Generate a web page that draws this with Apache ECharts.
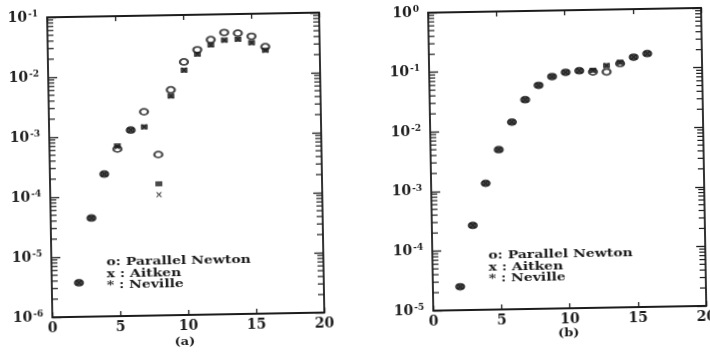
<!DOCTYPE html>
<html>
<head>
<meta charset="utf-8">
<script src="https://cdn.jsdelivr.net/npm/echarts@6/dist/echarts.min.js"></script>
<style>
  html, body { margin: 0; padding: 0; background: #fff; }
  #chart { width: 710px; height: 358px; transform: rotate(-1deg); transform-origin: 355px 179px; }
</style>
</head>
<body>
<div id="chart"></div>
<script>
// ---- data ----
const xValues = [2, 3, 4, 5, 6, 7, 8, 9, 10, 11, 12, 13, 14, 15, 16];

// panel (a)
const newtonA  = [3.7e-6, 4.4e-5, 2.35e-4, 6.1e-4, 1.25e-3, 2.5e-3, 4.8e-4, 5.7e-3, 1.65e-2, 2.6e-2, 3.8e-2, 4.95e-2, 4.8e-2, 4.2e-2, 2.8e-2];
const aitkenA  = [3.7e-6, 4.4e-5, 2.35e-4, 6.6e-4, 1.25e-3, 1.4e-3, 1.03e-4, 4.5e-3, 1.2e-2, 2.2e-2, 3.1e-2, 3.7e-2, 3.8e-2, 3.3e-2, 2.45e-2];
const nevilleA = [3.7e-6, 4.4e-5, 2.35e-4, 6.9e-4, 1.25e-3, 1.4e-3, 1.56e-4, 4.5e-3, 1.2e-2, 2.2e-2, 3.1e-2, 3.7e-2, 3.8e-2, 3.3e-2, 2.45e-2];

// panel (b)
const newtonB  = [2.47e-5, 2.62e-4, 1.32e-3, 4.8e-3, 1.38e-2, 3.25e-2, 5.6e-2, 7.8e-2, 9.1e-2, 9.6e-2, 9.1e-2, 9.0e-2, 0.123, 0.156, 0.178];
const aitkenB  = [2.47e-5, 2.62e-4, 1.32e-3, 4.8e-3, 1.38e-2, 3.25e-2, 5.6e-2, 7.8e-2, 9.1e-2, 9.6e-2, 9.7e-2, 0.115, 0.129, 0.156, 0.178];
const nevilleB = [2.47e-5, 2.62e-4, 1.32e-3, 4.8e-3, 1.38e-2, 3.25e-2, 5.6e-2, 7.8e-2, 9.1e-2, 9.6e-2, 9.7e-2, 0.115, 0.129, 0.156, 0.178];

// axes
const xTicks = [0, 5, 10, 15, 20];
const yExpA = [-6, -5, -4, -3, -2, -1];
const yExpB = [-5, -4, -3, -2, -1, 0];
const legendLines = ['o: Parallel Newton', 'x : Aitken', '* : Neville'];
const captions = ['(a)', '(b)'];
const seriesNames = ['Parallel Newton', 'Aitken', 'Neville'];

// ---- build ----
const INK = '#1c1c1c';
const FONT = 'DejaVu Serif';

function pairs(ys) { return xValues.map((x, i) => [x, ys[i]]); }

function minorTicks(exps) {
  const out = [];
  for (let e = exps[0]; e < exps[exps.length - 1]; e++) {
    for (let m = 2; m <= 9; m++) out.push([0, m * Math.pow(10, e)]);
  }
  return out;
}

function yLabelFmt(v) {
  const e = Math.round(Math.log10(v));
  return '{b|10}{s|' + (e < 0 ? '-' + (-e) : e) + '}';
}

const grids = [
  { left: 50, top: 12, width: 272, height: 300, outerBoundsMode: 'none' },
  { left: 431, top: 14, width: 273, height: 298, outerBoundsMode: 'none' }
];

const xAxis = [], yAxis = [], series = [];
const ranges = [yExpA, yExpB];
const data = [[newtonA, aitkenA, nevilleA], [newtonB, aitkenB, nevilleB]];

const xPath = 'path://M0,0 L2.5,0 L5,3 L7.5,0 L10,0 L6.5,4 L10,8 L7.5,8 L5,5 L2.5,8 L0,8 L3.5,4 Z';
const lineStyle = { color: INK, width: 1.8 };
const tickStyle = { color: INK, width: 1.3 };

for (let g = 0; g < 2; g++) {
  const exps = ranges[g];
  const ymin = Math.pow(10, exps[0]), ymax = Math.pow(10, exps[exps.length - 1]);
  const xmin = xTicks[0], xmax = xTicks[xTicks.length - 1];
  xAxis.push({
    type: 'value', gridIndex: g, min: xmin, max: xmax, interval: 5, position: 'bottom',
    axisLine: { onZero: false, lineStyle },
    axisTick: { inside: true, length: 5, lineStyle: tickStyle },
    axisLabel: { color: INK, fontFamily: FONT, fontWeight: 'bold', fontSize: 14, margin: 4 },
    splitLine: { show: false }
  });
  xAxis.push({
    type: 'value', gridIndex: g, min: xmin, max: xmax, interval: 5, position: 'top',
    axisLine: { onZero: false, lineStyle },
    axisTick: { inside: true, length: 5, lineStyle: tickStyle },
    axisLabel: { show: false },
    splitLine: { show: false }
  });
  yAxis.push({
    type: 'log', logBase: 10, gridIndex: g, min: ymin, max: ymax, splitNumber: 5, position: 'left',
    axisLine: { onZero: false, lineStyle },
    axisTick: { inside: true, length: 9, lineStyle: tickStyle },
    axisLabel: {
      color: INK, margin: 9, formatter: yLabelFmt,
      rich: {
        b: { fontFamily: FONT, fontWeight: 'bold', fontSize: 14, color: INK },
        s: { fontFamily: FONT, fontWeight: 'bold', fontSize: 9, color: INK, padding: [0, 0, 7, 1] }
      }
    },
    splitLine: { show: false }
  });
  yAxis.push({
    type: 'log', logBase: 10, gridIndex: g, min: ymin, max: ymax, splitNumber: 5, position: 'right',
    axisLine: { onZero: false, lineStyle },
    axisTick: { inside: true, length: 9, lineStyle: tickStyle },
    axisLabel: { show: false },
    splitLine: { show: false }
  });

  const xi = g * 2, yi = g * 2;
  // minor log ticks (2..9 per decade) on left and right axes
  series.push({
    type: 'custom', xAxisIndex: xi, yAxisIndex: yi, silent: true, clip: false, z: 1,
    data: minorTicks(exps),
    encode: { x: 0, y: 1 },
    renderItem: function (params, api) {
      const v = api.value(1);
      const p = api.coord([xmin, v]);
      const q = api.coord([xmax, v]);
      const L = 6;
      return {
        type: 'group',
        children: [
          { type: 'line', shape: { x1: p[0], y1: p[1], x2: p[0] + L, y2: p[1] }, style: { stroke: INK, lineWidth: 1.2 } },
          { type: 'line', shape: { x1: q[0], y1: q[1], x2: q[0] - L, y2: q[1] }, style: { stroke: INK, lineWidth: 1.2 } }
        ]
      };
    }
  });
  const [nw, ai, ne] = data[g];
  series.push({
    name: seriesNames[0], type: 'scatter', xAxisIndex: xi, yAxisIndex: yi, data: pairs(nw),
    symbol: 'circle', symbolSize: [8, 6],
    itemStyle: { color: '#fff', borderColor: INK, borderWidth: 2 }, z: 3
  });
  series.push({
    name: seriesNames[1], type: 'scatter', xAxisIndex: xi, yAxisIndex: yi, data: pairs(ai),
    symbol: xPath, symbolSize: [6, 5],
    itemStyle: { color: INK }, z: 4
  });
  series.push({
    name: seriesNames[2], type: 'scatter', xAxisIndex: xi, yAxisIndex: yi, data: pairs(ne),
    symbol: 'rect', symbolSize: [7, 5],
    itemStyle: { color: INK }, z: 5
  });
}

const legendPos = [[105, 258], [487, 258]];
const capPos = [[182, 339], [566, 337]];
const graphic = [];
for (let g = 0; g < 2; g++) {
  legendLines.forEach((t, i) => {
    graphic.push({
      type: 'text', x: legendPos[g][0], y: legendPos[g][1] + i * 11.7, scaleY: 0.78, silent: true,
      style: { text: t, fill: INK, font: 'bold 14px "' + FONT + '"', verticalAlign: 'middle', align: 'left' }
    });
  });
  graphic.push({
    type: 'text', x: capPos[g][0], y: capPos[g][1], scaleY: 0.85, silent: true,
    style: { text: captions[g], fill: INK, font: 'bold 13px "' + FONT + '"', verticalAlign: 'middle', align: 'center' }
  });
}

const chart = echarts.init(document.getElementById('chart'), null, { renderer: 'canvas' });
chart.setOption({
  animation: false,
  backgroundColor: '#fff',
  grid: grids,
  xAxis: xAxis,
  yAxis: yAxis,
  series: series,
  graphic: graphic
});
</script>
</body>
</html>
